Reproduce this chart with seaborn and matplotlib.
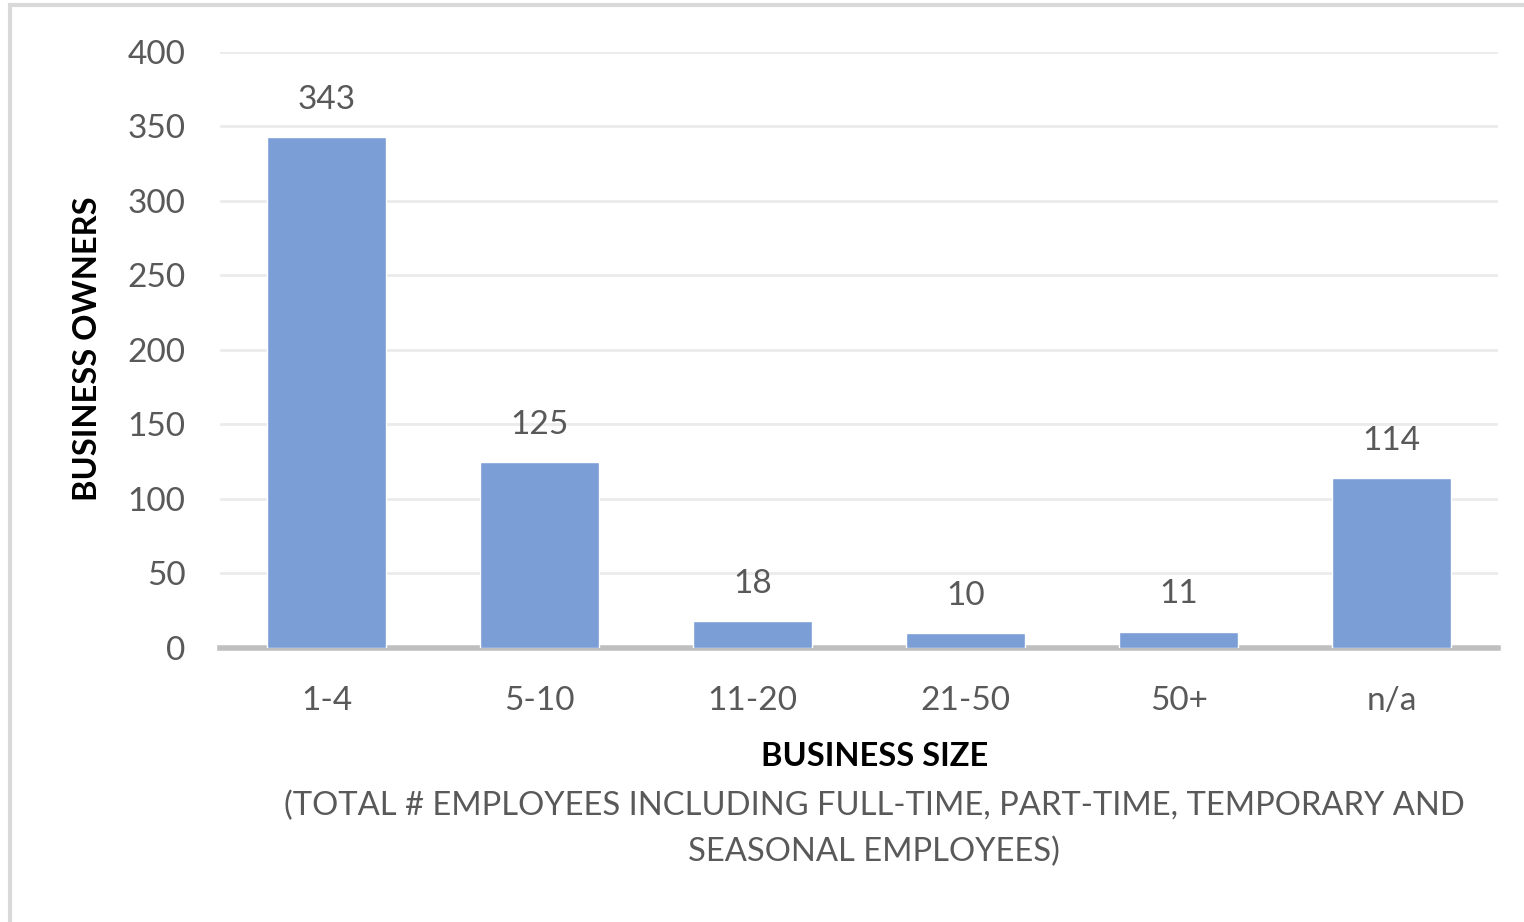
import numpy as np
import pandas as pd
import matplotlib.pyplot as plt
import matplotlib as mpl
import seaborn as sns
from matplotlib.patches import Rectangle

sizes = ['1-4', '5-10', '11-20', '21-50', '50+', 'n/a']
owners = [343, 125, 18, 10, 11, 114]
y_ticks = [0, 50, 100, 150, 200, 250, 300, 350, 400]

BAR_COLOR = '#7B9ED6'
TEXT_GRAY = '#595959'

sns.set_style('white')
mpl.rcParams['font.family'] = ['Lato', 'DejaVu Sans']

df = pd.DataFrame({'size': sizes, 'owners': owners})

fig = plt.figure(figsize=(15.24, 9.22), dpi=100)
ax = fig.add_axes([0.1444, 0.2972, 0.8386, 0.6464])

sns.barplot(data=df, x='size', y='owners', color=BAR_COLOR, width=0.555,
            saturation=1, ax=ax, zorder=3)

ax.set_ylim(0, 400)
ax.set_xlim(-0.5, len(sizes) - 0.5)
ax.set_yticks(y_ticks)
ax.yaxis.grid(True, color='#EBEBEB', lw=2, zorder=0)
ax.set_axisbelow(True)
for s in ['top', 'right', 'left']:
    ax.spines[s].set_visible(False)
ax.spines['bottom'].set_color('#BFBFBF')
ax.spines['bottom'].set_linewidth(4)
ax.tick_params(axis='both', length=0, labelsize=24, labelcolor=TEXT_GRAY)
ax.tick_params(axis='y', pad=25)
ax.tick_params(axis='x', pad=27.5)

for c in ax.containers:
    ax.bar_label(c, padding=16, fontsize=24, color=TEXT_GRAY)

ax.set_ylabel('BUSINESS OWNERS', fontsize=23.5, fontweight='bold', color='black')
ax.yaxis.set_label_coords(-0.092, 0.503)
ax.set_xlabel('')
fig.text(0.574, 0.179, 'BUSINESS SIZE', fontsize=23.5, fontweight='bold',
         ha='center', va='center', color='black')
fig.text(0.5735, 0.1005,
         '(TOTAL # EMPLOYEES INCLUDING FULL-TIME, PART-TIME, TEMPORARY AND\nSEASONAL EMPLOYEES)',
         fontsize=23.6, ha='center', va='center', color=TEXT_GRAY, linespacing=1.64)

# outer chart border (left and top edges visible)
fig.patches.append(Rectangle((10 / 1524, -0.1), 1.2, 1.1 - 5 / 922,
                             transform=fig.transFigure, fill=False,
                             edgecolor='#D9D9D9', lw=3))

fig.savefig('out.png', dpi=100)
